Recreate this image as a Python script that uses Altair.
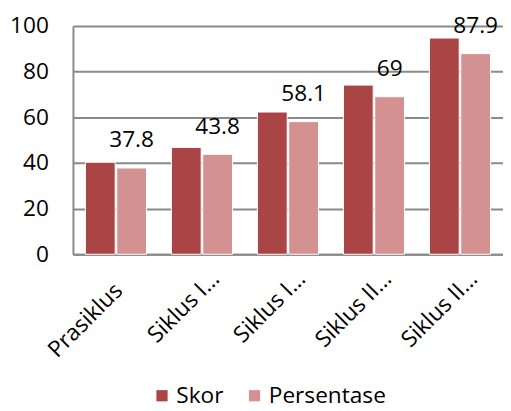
import altair as alt
import pandas as pd

categories = ["Prasiklus", "Siklus I (1)", "Siklus I (2)", "Siklus II (1)", "Siklus II (2)"]
tick_labels = ["Prasiklus", "Siklus I…", "Siklus I…", "Siklus II…", "Siklus II…"]
series = ["Skor", "Persentase"]
skor = [40.3, 46.8, 62.3, 74.1, 94.7]
persentase = [37.8, 43.8, 58.1, 69, 87.9]

rows = []
for c, s, p in zip(categories, skor, persentase):
    rows.append({"cat": c, "series": "Skor", "value": s})
    rows.append({"cat": c, "series": "Persentase", "value": p})
df = pd.DataFrame(rows)

label_map = "{" + ",".join(f"'{c}':'{t}'" for c, t in zip(categories, tick_labels)) + "}"

FONT = "Open Sans"
FS = 23

x = alt.X(
    "cat:N",
    sort=categories,
    title=None,
    scale=alt.Scale(paddingInner=0.29, paddingOuter=0.145),
    axis=alt.Axis(
        labelAngle=-45,
        labelAlign="right",
        labelBaseline="middle",
        labelExpr=label_map + "[datum.value]",
        ticks=False,
        labelOffset={"condition": {"test": "datum.value == 'Prasiklus'", "value": 3}, "value": 14},
        labelPadding={"condition": {"test": "datum.value == 'Prasiklus'", "value": 33}, "value": 21},
        labelFontSize=FS,
        labelFont=FONT,
        labelColor="#000000",
        domainColor="#8a8a8a",
        domainWidth=2,
        grid=False,
    ),
)

bars = alt.Chart(df).mark_bar(stroke="white", strokeWidth=1).encode(
    x=x,
    xOffset=alt.XOffset("series:N", sort=series, scale=alt.Scale(paddingInner=0.05)),
    y=alt.Y(
        "value:Q",
        title=None,
        scale=alt.Scale(domain=[0, 100], nice=False),
        axis=alt.Axis(
            values=[0, 20, 40, 60, 80, 100],
            ticks=False,
            labelPadding=25,
            labelFontSize=FS,
            labelFont=FONT,
            labelColor="#000000",
            domainColor="#8a8a8a",
            domainWidth=2,
            gridColor="#8a8a8a",
            gridWidth=2,
        ),
    ),
    color=alt.Color(
        "series:N",
        sort=series,
        scale=alt.Scale(domain=series, range=["#A94545", "#D39191"]),
        legend=alt.Legend(
            title=None,
            orient="none",
            legendX=79,
            legendY=364,
            direction="horizontal",
            symbolType="square",
            symbolSize=130,
            symbolStrokeWidth=0,
            labelFontSize=FS,
            labelFont=FONT,
            labelColor="#000000",
            labelOffset=3,
            columnPadding=20,
            padding=0,
        ),
    ),
)

labels = alt.Chart(df[df["series"] == "Persentase"]).mark_text(
    fontSize=FS, font=FONT, color="#000000", baseline="alphabetic", dy=-21
).encode(
    x=alt.X("cat:N", sort=categories),
    xOffset=alt.XOffset("series:N", sort=series),
    y=alt.Y("value:Q"),
    text=alt.Text("value:Q"),
)

chart = (
    alt.layer(bars, labels)
    .properties(
        width=437,
        height=232,
        autosize=alt.AutoSizeParams(type="none"),
        padding={"left": 66, "top": 15, "right": 0, "bottom": 156},
    )
    .configure_view(stroke=None)
    .configure_axisX(grid=False)
)

chart.save("out.html", embed_options={"renderer": "svg", "actions": False})
